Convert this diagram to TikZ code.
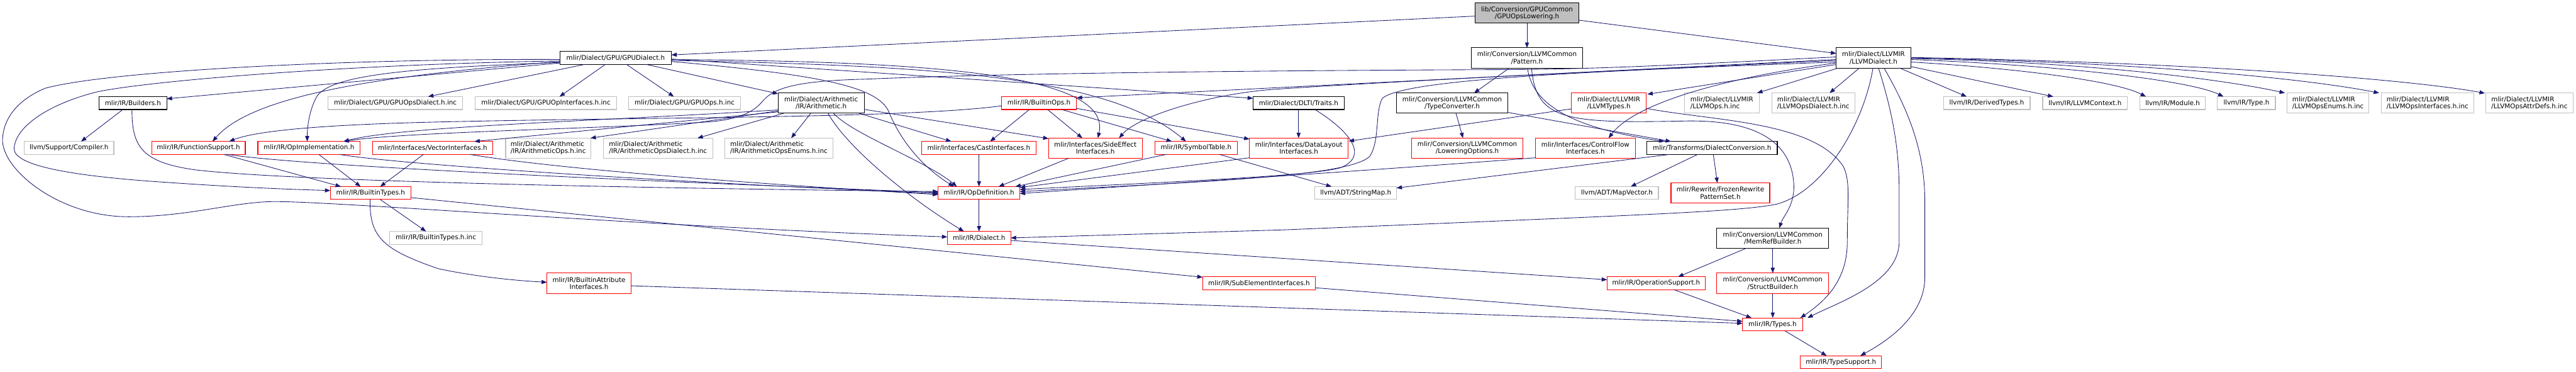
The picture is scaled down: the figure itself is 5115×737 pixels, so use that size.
\documentclass[tikz,border=0pt]{standalone}
\usepackage{fontspec}
\setmainfont{DejaVu Sans}
\usetikzlibrary{arrows.meta,calc}
\definecolor{edgeblue}{HTML}{191970}
\definecolor{greyline}{HTML}{BFBFBF}
\definecolor{redline}{HTML}{FF0000}
\begin{document}
\begin{tikzpicture}[x=0.75pt,y=-0.75pt,
  box/.style={draw, line width=1pt, fill=white, inner sep=0pt, align=center, text=black, font=\fontsize{9.7}{10.5}\selectfont},
  nb/.style={box, draw=black},
  nr/.style={box, draw=redline},
  ng/.style={box, draw=greyline},
  ngl/.style={box, draw=greyline, align=left},
  ntop/.style={box, draw=black, fill=greyline},
  h1/.style={minimum height=19.2pt},
  h2/.style={minimum height=30.2pt},
  dep/.style={draw=edgeblue, line width=0.8pt, -{Triangle[length=8pt,width=6pt]}}]
\fill[white] (0,0) rectangle (5115,737);
\useasboundingbox (0,0) rectangle (5115,737);

% ---------------- nodes ----------------
\node[ntop, minimum width=154.5pt, minimum height=30pt] (n0) at (3032,26) {lib/Conversion/GPUCommon\\/GPUOpsLowering.h};

\node[nb, h1, minimum width=165.75pt] (gd) at (1222.5,115) {mlir/Dialect/GPU/GPUDialect.h};
\node[nb, h2, minimum width=166.5pt] (pt) at (3032,115) {mlir/Conversion/LLVMCommon\\/Pattern.h};
\node[nb, h2, minimum width=111pt] (ld) at (3720,115) {mlir/Dialect/LLVMIR\\/LLVMDialect.h};

\node[nb, h1, minimum width=100.5pt] (bld) at (264,204.5) {mlir/IR/Builders.h};
\node[ng, h1, minimum width=201pt] (gpudi) at (785,204.5) {mlir/Dialect/GPU/GPUOpsDialect.h.inc};
\node[ng, h1, minimum width=210pt] (gpuoi) at (1084,204.5) {mlir/Dialect/GPU/GPUOpInterfaces.h.inc};
\node[ng, h1, minimum width=167.25pt] (gpuops) at (1359.5,204.5) {mlir/Dialect/GPU/GPUOps.h.inc};
\node[nb, h2, minimum width=128.25pt] (arith) at (1630.5,204.5) {mlir/Dialect/Arithmetic\\/IR/Arithmetic.h};
\node[nr, h1, minimum width=111pt] (bops) at (2063,204.5) {mlir/IR/BuiltinOps.h};
\node[nb, h1, minimum width=135.75pt] (dlti) at (2578.5,204.5) {mlir/Dialect/DLTI/Traits.h};
\node[nb, h2, minimum width=165.75pt] (tc) at (2883.5,204.5) {mlir/Conversion/LLVMCommon\\/TypeConverter.h};
\node[nr, h2, minimum width=111.75pt] (lt) at (3194.5,204.5) {mlir/Dialect/LLVMIR\\/LLVMTypes.h};
\node[ngl, h2, minimum width=111pt] (lopsinc) at (3419,204.5) {mlir/Dialect/LLVMIR\\/LLVMOps.h.inc};
\node[ngl, h2, minimum width=123.75pt] (lopsdi) at (3600.5,204.5) {mlir/Dialect/LLVMIR\\/LLVMOpsDialect.h.inc};
\node[ng, h1, minimum width=129pt] (dty) at (3945,204.5) {llvm/IR/DerivedTypes.h};
\node[ng, h1, minimum width=126pt] (lctx) at (4140,204.5) {llvm/IR/LLVMContext.h};
\node[ng, h1, minimum width=97.5pt] (mod) at (4314,204.5) {llvm/IR/Module.h};
\node[ng, h1, minimum width=86.25pt] (ty) at (4460.5,204.5) {llvm/IR/Type.h};
\node[ngl, h2, minimum width=122.25pt] (enums) at (4622.5,204.5) {mlir/Dialect/LLVMIR\\/LLVMOpsEnums.h.inc};
\node[ngl, h2, minimum width=138pt] (ifc) at (4820,204.5) {mlir/Dialect/LLVMIR\\/LLVMOpsInterfaces.h.inc};
\node[ngl, h2, minimum width=129.75pt] (attr) at (5022.5,204.5) {mlir/Dialect/LLVMIR\\/LLVMOpsAttrDefs.h.inc};

\node[ng, h1, minimum width=133.5pt] (comp) at (137,293.5) {llvm/Support/Compiler.h};
\node[nr, h1, minimum width=139.5pt] (fs) at (394,293.5) {mlir/IR/FunctionSupport.h};
\node[nr, h1, minimum width=152.25pt] (oi) at (613.5,293.5) {mlir/IR/OpImplementation.h};
\node[nr, h1, minimum width=178.5pt] (vi) at (859,293.5) {mlir/Interfaces/VectorInterfaces.h};
\node[ngl, h2, minimum width=126.75pt] (aops) at (1088.5,294) {mlir/Dialect/Arithmetic\\/IR/ArithmeticOps.h.inc};
\node[ngl, h2, minimum width=162.75pt] (aopsd) at (1306.5,294) {mlir/Dialect/Arithmetic\\/IR/ArithmeticOpsDialect.h.inc};
\node[ngl, h2, minimum width=161.25pt] (aopse) at (1546.5,294) {mlir/Dialect/Arithmetic\\/IR/ArithmeticOpsEnums.h.inc};
\node[nr, h1, minimum width=170.25pt] (cast) at (1943.5,293.5) {mlir/Interfaces/CastInterfaces.h};
\node[nr, h2, minimum width=139.5pt] (se) at (2175,294) {mlir/Interfaces/SideEffect\\Interfaces.h};
\node[nr, h1, minimum width=123pt] (st) at (2375,293.5) {mlir/IR/SymbolTable.h};
\node[nr, h2, minimum width=147pt] (dl) at (2579,294) {mlir/Interfaces/DataLayout\\Interfaces.h};
\node[nr, h2, minimum width=165.75pt] (lo) at (2913.5,294) {mlir/Conversion/LLVMCommon\\/LoweringOptions.h};
\node[nr, h2, minimum width=148.5pt] (cf) at (3148,294) {mlir/Interfaces/ControlFlow\\Interfaces.h};
\node[nb, h1, minimum width=194.25pt] (dc) at (3399.5,293.5) {mlir/Transforms/DialectConversion.h};

\node[nr, h1, minimum width=120pt] (btypes) at (736,383) {mlir/IR/BuiltinTypes.h};
\node[nr, h1, minimum width=121.5pt] (opdef) at (1944,383) {mlir/IR/OpDefinition.h};
\node[ng, h1, minimum width=121.5pt] (smap) at (2692,383) {llvm/ADT/StringMap.h};
\node[ng, h1, minimum width=123.75pt] (mvec) at (3210.5,383) {llvm/ADT/MapVector.h};
\node[nr, h2, minimum width=147pt] (frozen) at (3416,383) {mlir/Rewrite/FrozenRewrite\\PatternSet.h};

\node[ng, h1, minimum width=137.25pt] (btinc) at (865.5,472) {mlir/IR/BuiltinTypes.h.inc};
\node[nr, h1, minimum width=94.5pt] (dia) at (1944,472) {mlir/IR/Dialect.h};
\node[nb, h2, minimum width=166.5pt] (mrb) at (3520,472.5) {mlir/Conversion/LLVMCommon\\/MemRefBuilder.h};

\node[nr, h2, minimum width=125.25pt] (bai) at (1169.5,562) {mlir/IR/BuiltinAttribute\\Interfaces.h};
\node[nr, h1, minimum width=168pt] (sei) at (2500,562) {mlir/IR/SubElementInterfaces.h};
\node[nr, h1, minimum width=146.25pt] (ops) at (3288.5,562) {mlir/IR/OperationSupport.h};
\node[nr, h2, minimum width=166.5pt] (sb) at (3520,562) {mlir/Conversion/LLVMCommon\\/StructBuilder.h};

\node[nr, h1, minimum width=89.25pt] (types) at (3519.5,643.5) {mlir/IR/Types.h};
\node[nr, h1, minimum width=120.75pt] (tsup) at (3655.5,718.5) {mlir/IR/TypeSupport.h};

% ---------------- edges ----------------
% top node
\draw[dep] ($(n0)+(-103,6)$) -- ($(gd)+(110.5,-6)$);
\draw[dep] ($(n0)+(0,20)$) -- ($(pt)+(0,-20)$);
\draw[dep] ($(n0)+(103,14)$) -- ($(ld)+(-74,-9)$);

% GPUDialect
\draw[dep] ($(gd)+(-110.5,10)$) -- ($(bld)+(67,-8.5)$);
\draw[dep] ($(gd)+(-110.5,3)$) .. controls (700,116) and (220,140) .. (90,175) .. controls (30,200) and (5,240) .. (5,280) .. controls (8,340) and (120,430) .. (255,430) .. controls (380,430) and (470,398) .. (555,400) .. controls (700,402) and (1300,450) .. ($(dia)+(-63,-2)$);
\draw[dep] ($(gd)+(-110.5,6)$) .. controls (700,127) and (300,160) .. (194,182) .. controls (100,205) and (30,250) .. (28,295) .. controls (28,330) and (150,350) .. (333,362) .. controls (450,370) and (550,375) .. ($(btypes)+(-80,-5)$);
\draw[dep] ($(gd)+(-110.5,7)$) .. controls (750,150) and (500,190) .. ($(fs)+(28,-12.8)$);
\draw[dep] ($(gd)+(-110.5,9)$) .. controls (800,135) and (660,150) .. (630,190) .. controls (615,215) and (610,250) .. ($(oi)+(-3.5,-12.8)$);
\draw[dep] ($(gd)+(-61.5,12.8)$) -- ($(gpudi)+(65,-12.8)$);
\draw[dep] ($(gd)+(-20.5,12.8)$) -- ($(gpuoi)+(27,-12.8)$);
\draw[dep] ($(gd)+(21.5,12.8)$) -- ($(gpuops)+(-21.5,-12.8)$);
\draw[dep] ($(gd)+(60.5,12.8)$) -- ($(arith)+(-85.5,-18.5)$);
\draw[dep] ($(gd)+(110.5,2)$) -- ($(dlti)+(-90.5,-9.5)$);
\draw[dep] ($(gd)+(110.5,5)$) .. controls (1850,130) and (2200,150) .. ($(st)+(-20,-12.8)$);
\draw[dep] ($(gd)+(110.5,3)$) .. controls (1800,122) and (2210,140) .. ($(se)+(5,-20)$);
\draw[dep] ($(gd)+(110.5,7)$) .. controls (1650,150) and (1750,175) .. (1767,227) .. controls (1790,280) and (1830,330) .. ($(opdef)+(-50,-12.8)$);

% Arithmetic
\draw[dep] ($(arith)+(-85.5,17.5)$) -- ($(vi)+(83,-12.8)$);
\draw[dep] ($(arith)+(-85.5,15.5)$) -- ($(aops)+(84,-20)$);
\draw[dep] ($(arith)+(-73.5,20)$) -- ($(aopsd)+(78.5,-20)$);
\draw[dep] ($(arith)+(-20.5,20)$) -- ($(aopse)+(24.5,-20)$);
\draw[dep] ($(arith)+(-85.5,13.5)$) .. controls (1200,240) and (800,250) .. ($(oi)+(68.5,-12.8)$);
\draw[dep] ($(arith)+(74.5,20)$) -- ($(cast)+(-54.5,-12.8)$);
\draw[dep] ($(arith)+(85.5,12.5)$) -- ($(se)+(-93,-19)$);
\draw[dep] ($(arith)+(24.5,20)$) .. controls (1690,265) and (1840,320) .. ($(opdef)+(-44,-12.8)$);
\draw[dep] ($(arith)+(13.5,20)$) .. controls (1680,290) and (1800,390) .. ($(dia)+(-30,-12.8)$);

% BuiltinOps
\draw[dep] ($(bops)+(-19,12.8)$) -- ($(cast)+(22.5,-12.8)$);
\draw[dep] ($(bops)+(17,12.8)$) -- ($(se)+(-26,-20)$);
\draw[dep] ($(bops)+(45,12.8)$) -- ($(st)+(-48,-12.8)$);
\draw[dep] ($(bops)+(74,10.5)$) -- ($(dl)+(-98,-18)$);
\draw[dep] ($(bops)+(-74,5.5)$) .. controls (1800,235) and (1300,232) .. (870,242) .. controls (700,246) and (520,255) .. ($(fs)+(61,-12.8)$);

% DLTI Traits
\draw[dep] ($(dlti)+(0,12.8)$) -- ($(dl)+(-0.5,-20)$);
\draw[dep] ($(dlti)+(32.5,12.8)$) .. controls (2680,260) and (2720,310) .. (2661,333) .. controls (2600,350) and (2300,362) .. ($(opdef)+(81,-7)$);

% TypeConverter
\draw[dep] ($(tc)+(7.5,20)$) -- ($(lo)+(-8.5,-20)$);
\draw[dep] ($(tc)+(110.5,18.5)$) -- ($(dc)+(-81.5,-12.8)$);

% Pattern
\draw[dep] ($(pt)+(-35,20)$) -- ($(tc)+(43.5,-20)$);
\draw[dep] ($(pt)+(1,20)$) .. controls (3045,230) and (3180,262) .. ($(dc)+(-94.5,-12.8)$);
\draw[dep] ($(pt)+(9,20)$) .. controls (3050,240) and (3110,245) .. (3350,240) .. controls (3500,238) and (3560,290) .. (3562,370) .. controls (3562,410) and (3540,430) .. ($(mrb)+(13,-20)$);

% LLVMTypes
\draw[dep] ($(lt)+(74.5,10.5)$) .. controls (3400,240) and (3600,240) .. (3660,330) .. controls (3675,360) and (3668,400) .. (3668,480) .. controls (3668,560) and (3620,600) .. ($(types)+(55.5,-12.8)$);
\draw[dep] ($(lt)+(-74.5,11.5)$) -- ($(dl)+(99,-14)$);

% LLVMDialect
\draw[dep] ($(ld)+(-70,20)$) -- ($(lopsinc)+(70,-20)$);
\draw[dep] ($(ld)+(-28,20)$) -- ($(lopsdi)+(32.5,-20)$);
\draw[dep] ($(ld)+(52,20)$) -- ($(dty)+(-40,-12.8)$);
\draw[dep] ($(ld)+(74,17)$) -- ($(lctx)+(-63,-12.8)$);
\draw[dep] ($(ld)+(74,8)$) .. controls (4000,135) and (4200,160) .. ($(mod)+(-53,-12.8)$);
\draw[dep] ($(ld)+(74,3)$) .. controls (4100,130) and (4350,160) .. ($(ty)+(-45.5,-12.8)$);
\draw[dep] ($(ld)+(74,1)$) .. controls (4200,125) and (4450,165) .. ($(enums)+(-85.5,-20)$);
\draw[dep] ($(ld)+(74,0)$) .. controls (4300,125) and (4600,160) .. ($(ifc)+(-96,-20)$);
\draw[dep] ($(ld)+(74,-1)$) .. controls (4400,125) and (4800,160) .. ($(attr)+(-88.5,-19.5)$);
\draw[dep] ($(ld)+(21,20)$) .. controls (3790,220) and (3822,300) .. (3822,400) -- (3822,550) .. controls (3822,620) and (3760,670) .. ($(tsup)+(38.5,-12.8)$);
\draw[dep] ($(ld)+(10,20)$) .. controls (3760,230) and (3771,300) .. (3771,380) -- (3771,480) .. controls (3771,560) and (3650,600) .. ($(types)+(69.5,-12.8)$);
\draw[dep] ($(ld)+(-1,20)$) .. controls (3700,250) and (3620,380) .. (3528,405) .. controls (3450,420) and (3300,425) .. (2550,456) -- ($(dia)+(63,0)$);
\draw[dep] ($(ld)+(-74,10)$) .. controls (3450,150) and (3250,200) .. ($(cf)+(46,-20)$);
\draw[dep] ($(ld)+(-74,13)$) -- ($(lt)+(76.5,-17.5)$);
\draw[dep] ($(ld)+(-74,3)$) -- ($(bops)+(75,-10.5)$);
\draw[dep] ($(ld)+(-74,5)$) .. controls (3200,140) and (2700,165) .. (2520,178) .. controls (2400,188) and (2260,230) .. ($(se)+(47,-20)$);
\draw[dep] ($(ld)+(-74,-2)$) .. controls (3400,125) and (3200,137) .. (3000,138) .. controls (2500,140) and (2000,145) .. (1720,157) .. controls (1600,160) and (1540,170) .. (1515,200) .. controls (1495,225) and (1460,238) .. (1405,242) .. controls (1200,255) and (800,262) .. ($(oi)+(68.5,-12.8)$);
\draw[dep] ($(ld)+(-74,8)$) .. controls (3200,140) and (2790,155) .. (2745,195) .. controls (2730,220) and (2740,280) .. (2720,310) .. controls (2680,350) and (2400,360) .. ($(opdef)+(81,-3)$);

% DialectConversion
\draw[dep] ($(dc)+(-83.5,12.8)$) -- ($(smap)+(81,-10)$);
\draw[dep] ($(dc)+(-28.5,12.8)$) -- ($(mvec)+(27.5,-12.8)$);
\draw[dep] ($(dc)+(2.5,12.8)$) -- ($(frozen)+(-6,-20)$);

% row 3 to OpDefinition etc.
\draw[dep] ($(st)+(46,12.8)$) -- ($(smap)+(-48,-12.8)$);
\draw[dep] ($(st)+(-59,12.8)$) -- ($(opdef)+(72,-12.8)$);
\draw[dep] ($(se)+(-53,20)$) -- ($(opdef)+(39,-12.8)$);
\draw[dep] ($(cast)+(0.5,12.8)$) -- ($(opdef)+(0,-12.8)$);
\draw[dep] ($(dl)+(-98,19)$) -- ($(opdef)+(81,-11)$);
\draw[dep] ($(cf)+(-99,19)$) .. controls (2700,340) and (2300,365) .. ($(opdef)+(81,1)$);

% lower part
\draw[dep] ($(opdef)+(0,12.8)$) -- ($(dia)+(0,-12.8)$);
\draw[dep] ($(dia)+(63,5)$) -- ($(ops)+(-97.5,-7)$);
\draw[dep] ($(mrb)+(0,20.2)$) -- ($(sb)+(0,-20.2)$);
\draw[dep] ($(mrb)+(-53,20.2)$) -- ($(ops)+(43.5,-12.8)$);
\draw[dep] ($(sb)+(0,20.2)$) -- ($(types)+(0.5,-12.8)$);
\draw[dep] ($(ops)+(35.5,12.8)$) -- ($(types)+(-41.5,-12.8)$);
\draw[dep] ($(bai)+(83.5,5)$) -- ($(types)+(-59.5,-2)$);
\draw[dep] ($(sei)+(112,9)$) -- ($(types)+(-59.5,-6)$);
\draw[dep] ($(types)+(24.5,12.8)$) -- ($(tsup)+(-28.5,-12.8)$);

% BuiltinTypes
\draw[dep] ($(btypes)+(19,12.8)$) -- ($(btinc)+(-19.5,-12.8)$);
\draw[dep] ($(btypes)+(-1,12.8)$) .. controls (733,470) and (760,495) .. (870,533) .. controls (950,550) and (1030,557) .. ($(bai)+(-83.5,-2)$);
\draw[dep] ($(btypes)+(80,9)$) -- ($(sei)+(-112,-12)$);

% Builders and left row 3
\draw[dep] ($(bld)+(-20,12.8)$) -- ($(comp)+(24,-12.8)$);
\draw[dep] ($(bld)+(-2,12.8)$) .. controls (262,290) and (280,322) .. (388,337) .. controls (600,362) and (1400,375) .. ($(opdef)+(-81,-3)$);
\draw[dep] ($(fs)+(50,12.8)$) -- ($(btypes)+(-59,-12.8)$);
\draw[dep] ($(fs)+(58,12.8)$) .. controls (600,330) and (1300,360) .. ($(opdef)+(-81,-1)$);
\draw[dep] ($(oi)+(19.5,12.8)$) -- ($(btypes)+(-20,-12.8)$);
\draw[dep] ($(oi)+(60.5,12.8)$) .. controls (780,325) and (1300,360) .. ($(opdef)+(-81,1)$);
\draw[dep] ($(vi)+(-18,12.8)$) -- ($(btypes)+(19,-12.8)$);
\draw[dep] ($(vi)+(74,12.8)$) .. controls (1100,335) and (1500,365) .. ($(opdef)+(-81,3)$);
\end{tikzpicture}
\end{document}
